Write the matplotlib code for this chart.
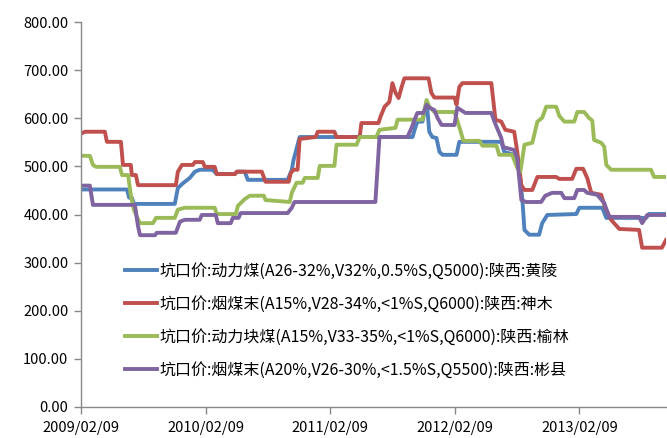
import pandas as pd
import matplotlib
matplotlib.use('Agg')
import matplotlib.pyplot as plt
import matplotlib.dates as mdates

plt.rcParams['font.family'] = ['Noto Sans CJK SC', 'DejaVu Sans']

#%% data (weekly pithead prices, yuan/t)
labels = ['坑口价:动力煤(A26-32%,V32%,0.5%S,Q5000):陕西:黄陵',
          '坑口价:烟煤末(A15%,V28-34%,<1%S,Q6000):陕西:神木',
          '坑口价:动力块煤(A15%,V33-35%,<1%S,Q6000):陕西:榆林',
          '坑口价:烟煤末(A20%,V26-30%,<1.5%S,Q5500):陕西:彬县']

huangling_dates = ['2009-02-09', '2009-06-24', '2009-06-30', '2009-07-08', '2009-07-14',
                   '2009-11-11', '2009-11-20', '2009-12-05', '2009-12-25', '2010-01-09',
                   '2010-01-23', '2010-03-02', '2010-03-14', '2010-05-06', '2010-05-12',
                   '2010-06-04', '2010-06-13', '2010-10-08', '2010-10-20', '2010-10-25',
                   '2010-11-12', '2011-10-09', '2011-10-15', '2011-10-23', '2011-11-07',
                   '2011-11-19', '2011-11-22', '2011-11-27', '2011-12-06', '2011-12-18',
                   '2011-12-27', '2012-01-05', '2012-02-15', '2012-02-23', '2012-06-25',
                   '2012-07-04', '2012-08-02', '2012-08-17', '2012-08-26', '2012-09-01',
                   '2012-09-15', '2012-10-14', '2012-10-23', '2012-11-07', '2013-01-31',
                   '2013-02-09', '2013-04-17', '2013-04-29', '2013-08-24', '2013-09-01',
                   '2013-10-21']
huangling = [452, 452, 435, 435, 422, 422, 455, 465, 476, 489,
             493, 493, 484, 484, 489, 489, 472, 472, 493, 513,
             561, 561, 576, 593, 593, 632, 613, 572, 561, 559,
             530, 524, 524, 551, 551, 530, 524, 493, 430, 368,
             358, 358, 382, 399, 401, 414, 414, 393, 393, 401,
             401]

shenmu_dates = ['2009-02-09', '2009-02-21', '2009-04-20', '2009-04-26', '2009-06-06',
                '2009-06-12', '2009-07-05', '2009-07-08', '2009-07-20', '2009-07-26',
                '2009-11-14', '2009-11-20', '2009-12-02', '2010-01-03', '2010-01-09',
                '2010-02-01', '2010-02-07', '2010-03-08', '2010-03-14', '2010-05-06',
                '2010-05-12', '2010-07-24', '2010-08-04', '2010-10-11', '2010-10-17',
                '2010-10-25', '2010-11-06', '2010-11-12', '2010-12-29', '2011-01-04',
                '2011-02-22', '2011-02-28', '2011-05-07', '2011-05-12', '2011-07-01',
                '2011-07-07', '2011-07-19', '2011-08-02', '2011-08-11', '2011-08-20',
                '2011-08-29', '2011-09-07', '2011-09-15', '2011-11-25', '2011-12-03',
                '2011-12-12', '2012-02-09', '2012-02-15', '2012-02-23', '2012-03-03',
                '2012-05-27', '2012-06-08', '2012-06-25', '2012-07-07', '2012-08-02',
                '2012-08-11', '2012-08-23', '2012-09-01', '2012-09-24', '2012-10-09',
                '2012-12-03', '2012-12-12', '2013-01-19', '2013-01-31', '2013-02-20',
                '2013-03-04', '2013-03-16', '2013-04-14', '2013-04-26', '2013-05-13',
                '2013-06-06', '2013-08-03', '2013-08-12', '2013-10-09', '2013-10-21']
shenmu = [568, 572, 572, 551, 551, 503, 503, 482, 482, 461,
          461, 489, 503, 503, 509, 509, 499, 499, 484, 484,
          489, 489, 468, 468, 486, 493, 493, 557, 561, 572,
          572, 561, 561, 590, 590, 603, 624, 634, 673, 653,
          642, 665, 683, 683, 653, 643, 643, 628, 665, 673,
          673, 597, 593, 576, 572, 530, 461, 451, 451, 478,
          478, 474, 474, 495, 495, 476, 445, 441, 414, 389,
          370, 368, 331, 331, 347]

yulin_dates = ['2009-02-09', '2009-03-07', '2009-03-16', '2009-03-25', '2009-06-03',
               '2009-06-09', '2009-06-27', '2009-07-05', '2009-07-14', '2009-07-26',
               '2009-08-01', '2009-09-08', '2009-09-17', '2009-11-11', '2009-11-20',
               '2009-12-10', '2010-03-08', '2010-03-14', '2010-05-09', '2010-05-15',
               '2010-06-04', '2010-06-19', '2010-07-30', '2010-08-04', '2010-10-14',
               '2010-10-20', '2010-11-03', '2010-11-21', '2010-11-27', '2011-01-04',
               '2011-01-10', '2011-02-22', '2011-02-28', '2011-04-28', '2011-05-07',
               '2011-06-25', '2011-07-04', '2011-08-20', '2011-08-26', '2011-11-07',
               '2011-11-19', '2011-11-27', '2011-12-12', '2012-02-09', '2012-02-23',
               '2012-03-06', '2012-04-22', '2012-05-01', '2012-06-11', '2012-06-19',
               '2012-07-27', '2012-08-11', '2012-08-20', '2012-09-01', '2012-09-24',
               '2012-10-09', '2012-10-23', '2012-11-04', '2012-12-03', '2012-12-12',
               '2012-12-27', '2013-01-25', '2013-02-03', '2013-02-23', '2013-03-10',
               '2013-03-19', '2013-03-24', '2013-04-14', '2013-04-23', '2013-04-29',
               '2013-05-13', '2013-09-07', '2013-09-16', '2013-10-21']
yulin = [522, 522, 503, 499, 499, 482, 482, 440, 410, 390,
         382, 382, 393, 393, 410, 414, 414, 401, 401, 418,
         432, 439, 439, 430, 426, 445, 466, 466, 476, 476,
         501, 501, 545, 545, 561, 561, 576, 580, 597, 597,
         638, 624, 613, 613, 582, 553, 553, 543, 543, 524,
         524, 497, 489, 545, 549, 593, 601, 624, 624, 605,
         593, 593, 613, 613, 600, 595, 555, 549, 541, 503,
         493, 493, 478, 478]

binxian_dates = ['2009-02-09', '2009-03-07', '2009-03-16', '2009-07-17', '2009-07-26',
                 '2009-08-01', '2009-09-14', '2009-09-19', '2009-11-14', '2009-11-26',
                 '2009-12-10', '2010-01-23', '2010-01-29', '2010-03-11', '2010-03-17',
                 '2010-04-24', '2010-04-30', '2010-05-17', '2010-05-23', '2010-10-08',
                 '2010-10-20', '2010-10-28', '2011-06-22', '2011-06-28', '2011-07-04',
                 '2011-09-24', '2011-10-06', '2011-10-15', '2011-10-23', '2011-11-10',
                 '2011-11-19', '2011-11-27', '2011-12-12', '2011-12-21', '2012-01-02',
                 '2012-02-09', '2012-02-17', '2012-03-12', '2012-05-27', '2012-06-05',
                 '2012-06-25', '2012-07-01', '2012-08-02', '2012-08-11', '2012-08-23',
                 '2012-09-06', '2012-10-20', '2012-11-01', '2012-11-21', '2012-12-18',
                 '2012-12-27', '2013-01-25', '2013-02-03', '2013-02-23', '2013-03-04',
                 '2013-04-02', '2013-04-23', '2013-05-07', '2013-08-03', '2013-08-12',
                 '2013-08-27', '2013-10-21']
binxian = [460, 460, 420, 420, 376, 357, 357, 362, 362, 385,
           389, 389, 399, 399, 382, 382, 393, 393, 403, 403,
           414, 426, 426, 493, 561, 561, 580, 597, 611, 611,
           628, 622, 617, 601, 586, 586, 622, 611, 611, 593,
           559, 540, 534, 516, 430, 426, 426, 439, 445, 445,
           434, 434, 451, 451, 445, 441, 424, 395, 395, 382,
           399, 399]

year_ticks = ['2009-02-09', '2010-02-09', '2011-02-09', '2012-02-09', '2013-02-09']
x_end = '2013-10-21'

#%%
series = [(huangling_dates, huangling, '#4F81BD'),
          (shenmu_dates, shenmu, '#C0504D'),
          (yulin_dates, yulin, '#9BBB59'),
          (binxian_dates, binxian, '#8064A2')]

fig = plt.figure(figsize=(6.67, 4.38), dpi=100)
ax1 = fig.add_axes([81/667, 1 - 407/438, 585/667, 385/438])

for (d, v, c), lab in zip(series, labels):
    ax1.plot(pd.to_datetime(d), v, color=c, lw=2.8, label=lab, solid_joinstyle='round')

ax1.set_ylim(0, 800)
ax1.set_yticks(range(0, 801, 100))
ax1.yaxis.set_major_formatter(matplotlib.ticker.FormatStrFormatter('%.2f'))
ax1.set_xlim(pd.Timestamp(year_ticks[0]), pd.Timestamp(x_end))
ax1.set_xticks(pd.to_datetime(year_ticks))
ax1.xaxis.set_major_formatter(mdates.DateFormatter('%Y/%m/%d'))

for s in ['top', 'right']:
    ax1.spines[s].set_visible(False)
for s in ['left', 'bottom']:
    ax1.spines[s].set_color('#888888')
    ax1.spines[s].set_linewidth(1.0)
ax1.tick_params(axis='both', colors='#888888', length=5, width=1.0, labelsize=10.5,
                labelcolor='black', direction='out')
ax1.tick_params(axis='x', pad=5)
ax1.tick_params(axis='y', pad=4)

leg = ax1.legend(loc='upper left', bbox_to_anchor=(125/667, 1 - 263/438),
                 bbox_transform=fig.transFigure, frameon=False, fontsize=11.5,
                 handlelength=2.0, handletextpad=0.15, labelspacing=1.0,
                 borderpad=0, borderaxespad=0)

plt.savefig('out.png', dpi=100)
